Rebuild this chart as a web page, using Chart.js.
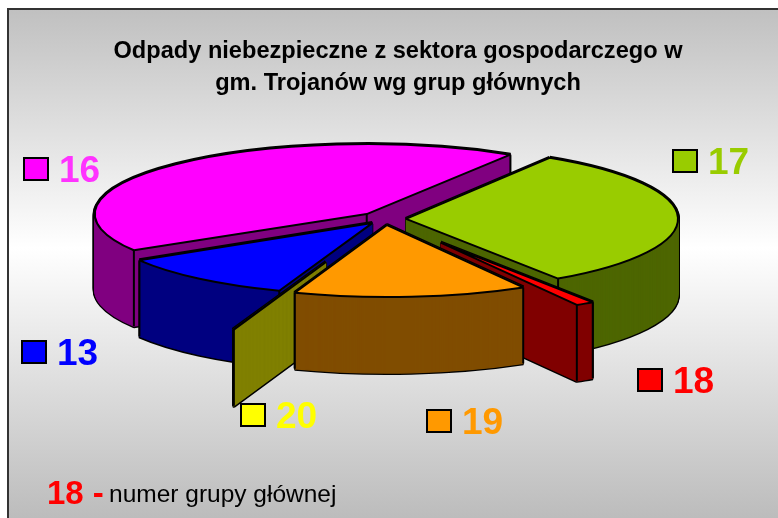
<!DOCTYPE html>
<html><head><meta charset="utf-8">
<style>html,body{margin:0;padding:0;background:#fff}canvas{display:block}</style>
<script src="https://cdn.jsdelivr.net/npm/chart.js@4"></script>
</head><body>
<div style="width:778px;height:518px;position:relative"><canvas id="c" width="778" height="518"></canvas></div>
<script>
const categories = ['13','16','17','18','19','20'];
const values = [10.8, 42.5, 31.7, 1.1, 13.85, 0.05];
const topColors = ['#0000FF','#FF00FF','#99CC00','#FF0000','#FF9900','#FFFF00'];
const wallColors = ['#000080','#800080','#4D6600','#800000','#804D00','#808000'];
const labelColors = ['#0000FF','#FF33FF','#99CC00','#FF0000','#FF9900','#FFFF00'];
const titleLines = ['Odpady niebezpieczne z sektora gospodarczego w','gm. Trojanów wg grup głównych'];
const noteNumber = '18 -';
const noteText = 'numer grupy głównej';
const paintOrder = [1,2,0,3,5,4];
const explode = [20,26,21,105,23,173];
const flatten = [72,70,72,72,72,72];
const swatchAt = [[22,341],[24,158],[673,150],[638,369],[427,410],[241,404]];
const PIE = {cx:385, cy:219, rx:272, ry:72, depth:76, line:2, rotation:200};
const FONT = 'Arial, "Liberation Sans", sans-serif';

const pie3d = {
  id:'pie3d',
  beforeDraw(chart){
    const {ctx,width,height} = chart;
    ctx.save();
    ctx.fillStyle='#fff'; ctx.fillRect(0,0,width,height);
    const g = ctx.createLinearGradient(0,9,0,518);
    g.addColorStop(0,'#c0c0c0'); g.addColorStop(0.47,'#ffffff'); g.addColorStop(1,'#bcbcbc');
    ctx.fillStyle=g; ctx.fillRect(7,9,width-7,height-9);
    ctx.fillStyle='#333'; ctx.fillRect(7,8,width-7,2); ctx.fillRect(7,8,2,height-8);
    ctx.restore();
  },
  beforeDatasetDraw(chart){
    const ctx = chart.ctx, arcs = chart.getDatasetMeta(0).data;
    const R = arcs[0].outerRadius, sx = PIE.rx/R;
    const nativeStroke = CanvasRenderingContext2D.prototype.stroke;
    ctx.stroke = function(){ ctx.save(); ctx.setTransform(1,0,0,1,0,0); nativeStroke.call(ctx); ctx.restore(); };
    ctx.save();
    paintOrder.forEach(i=>{
      const arc = arcs[i], base = arc.options, sy = flatten[i]/R;
      const mid = (arc.startAngle+arc.endAngle)/2;
      const apexX = PIE.cx+explode[i]*Math.cos(mid), apexY = PIE.cy+explode[i]*PIE.ry/PIE.rx*Math.sin(mid);
      const place = t => { ctx.setTransform(1,0,0,1,0,0); ctx.translate(apexX,apexY+t); ctx.scale(sx,sy); ctx.translate(-arc.x,-arc.y); };
      arc.options = {...base, backgroundColor:'#000', borderColor:'#000', borderWidth:4};
      for(let t=PIE.depth;t>=0;t--){ place(t); arc.draw(ctx); }
      arc.options = {...base, backgroundColor:wallColors[i], borderColor:wallColors[i], borderWidth:1.2};
      for(let t=PIE.depth;t>=0;t--){ place(t); arc.draw(ctx); }
      const pts = [arc.startAngle,arc.endAngle].map(a=>[apexX+PIE.rx*Math.cos(a), apexY+flatten[i]*Math.sin(a)]);
      if(Math.sin(mid)<-0.1) pts.push([apexX,apexY]);
      ctx.setTransform(1,0,0,1,0,0);
      ctx.strokeStyle='#000'; ctx.lineWidth=PIE.line; ctx.setLineDash([]);
      pts.forEach(p=>{
        ctx.beginPath(); ctx.moveTo(p[0],p[1]); ctx.lineTo(p[0],p[1]+PIE.depth); nativeStroke.call(ctx);
      });
      arc.options = base;
      place(0); arc.draw(ctx);
    });
    ctx.restore();
    ctx.setTransform(1,0,0,1,0,0);
    delete ctx.stroke;
    return false;
  },
  afterDraw(chart){
    const ctx = chart.ctx;
    ctx.save();
    ctx.textBaseline='alphabetic'; ctx.textAlign='center'; ctx.fillStyle='#000';
    ctx.font='bold 23.6px '+FONT;
    ctx.fillText(titleLines[0],398,58);
    ctx.fillText(titleLines[1],398,90);
    ctx.textAlign='left';
    categories.forEach((c,i)=>{
      const [x,y]=swatchAt[i];
      ctx.fillStyle=topColors[i]; ctx.strokeStyle='#000'; ctx.lineWidth=2;
      ctx.fillRect(x,y,24,22); ctx.strokeRect(x,y,24,22);
      ctx.fillStyle=labelColors[i]; ctx.font='bold 37px '+FONT;
      ctx.fillText(c,x+35,y+24);
    });
    ctx.fillStyle='#FF0000'; ctx.font='bold 33px '+FONT;
    ctx.fillText(noteNumber,47,504);
    ctx.fillStyle='#000'; ctx.font='24.5px '+FONT;
    ctx.fillText(noteText,109,502);
    ctx.restore();
  }
};
new Chart(document.getElementById('c'),{
  type:'pie',
  data:{labels:categories,datasets:[{data:values,backgroundColor:topColors,borderColor:'#000',borderWidth:PIE.line,hoverOffset:0}]},
  options:{responsive:false,animation:false,rotation:PIE.rotation,events:[],
    layout:{padding:0},plugins:{legend:{display:false},tooltip:{enabled:false},title:{display:false}}},
  plugins:[pie3d]
});
</script>
</body></html>
